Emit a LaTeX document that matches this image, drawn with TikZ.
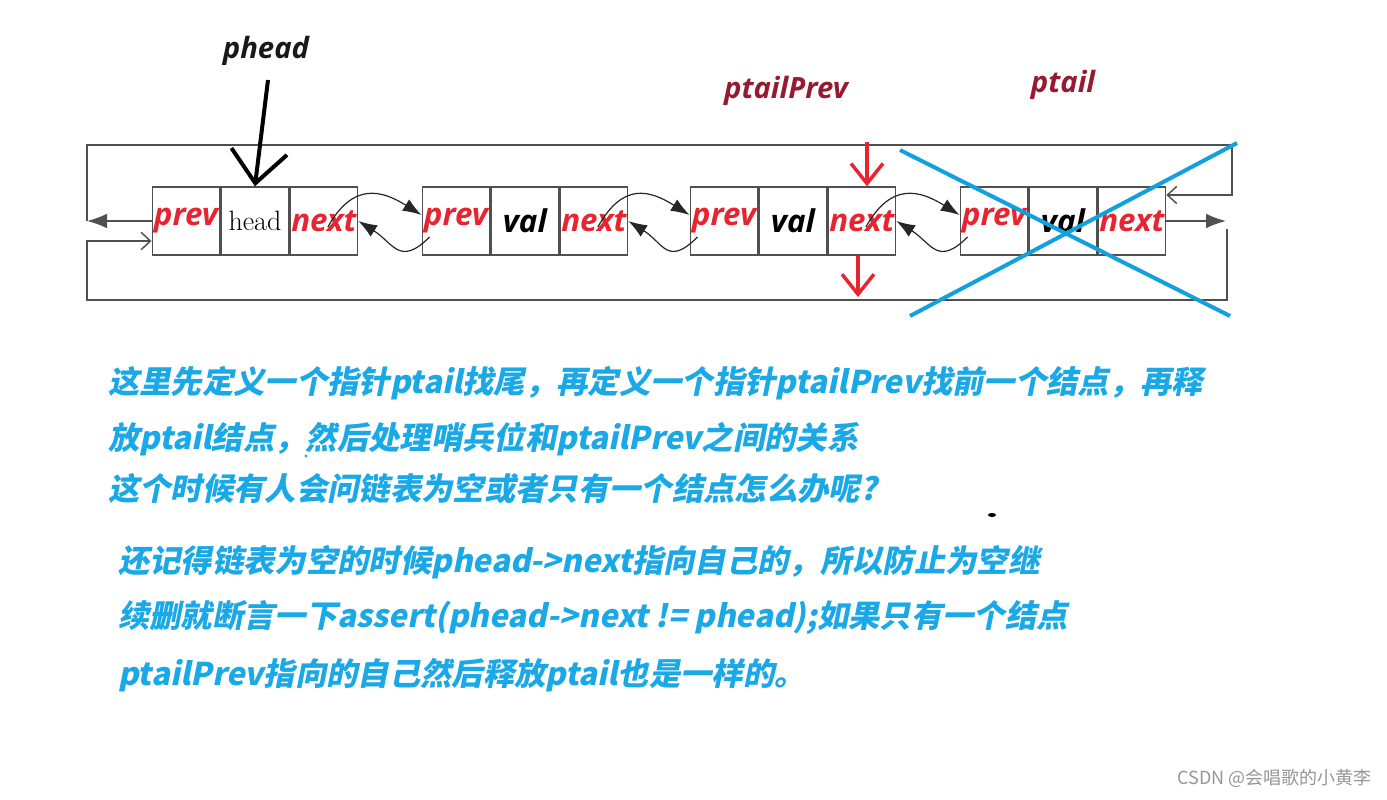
\documentclass[tikz,border=0pt]{standalone}
\usepackage{fontspec}
\usepackage{xcolor}
\usetikzlibrary{positioning,arrows.meta,calc}
\newfontfamily\cjkfont[FakeSlant=0.2]{Noto Sans CJK SC}
\newfontfamily\cjkplain{Noto Sans CJK SC}
\newfontfamily\lblfont{Open Sans}
\definecolor{lblred}{RGB}{232,36,48}
\definecolor{ptrred}{RGB}{150,26,48}
\definecolor{noteblue}{RGB}{27,168,230}
\definecolor{crossblue}{RGB}{18,160,222}
\definecolor{boxgray}{RGB}{80,80,80}
\definecolor{markgray}{RGB}{150,150,150}

\begin{document}
\begin{tikzpicture}[x=0.75pt, y=-0.75pt,
    cell/.style={draw=boxgray, line width=1.1pt, minimum width=50.6pt, minimum height=51pt,
      inner sep=0pt, text width=50.6pt, align=center},
    lbl/.style={font=\lblfont\bfseries\itshape\fontsize{23.5}{24}\selectfont},
    ptr/.style={font=\lblfont\bfseries\itshape\fontsize{22}{24}\selectfont},
    link/.style={draw=black!85, line width=0.9pt, -{Latex[length=14pt,width=10pt]}},
    loopline/.style={draw=boxgray, line width=1.1pt},
    note/.style={anchor=west, text=noteblue, inner sep=0pt, text height=0.88em, text depth=0.12em,
      font=\cjkfont\bfseries\fontsize{23.5}{26}\selectfont}]
  \useasboundingbox (0,0) rectangle (1387,799);

  % head node
  \node[cell, lbl, text=lblred] (p1) at (186,221) {prev};
  \node[cell, right=0pt of p1, font=\fontsize{21}{24}\selectfont] (h1) {head};
  \node[cell, lbl, text=lblred, right=0pt of h1] (n1) {next};

  % second node
  \node[cell, lbl, text=lblred] (p2) at (456,221) {prev};
  \node[cell, lbl, right=0pt of p2] (v2) {val};
  \node[cell, lbl, text=lblred, right=0pt of v2] (n2) {next};

  % third node (ptailPrev)
  \node[cell, lbl, text=lblred] (p3) at (724,221) {prev};
  \node[cell, lbl, right=0pt of p3] (v3) {val};
  \node[cell, lbl, text=lblred, right=0pt of v3] (n3) {next};

  % tail node
  \node[cell, lbl, text=lblred] (p4) at (994,221) {prev};
  \node[cell, lbl, right=0pt of p4] (v4) {val};
  \node[cell, lbl, text=lblred, right=0pt of v4] (n4) {next};

  % links between nodes
  \draw[link] ($(n1.center)+(4,6)$) .. controls +(25,-45) and +(-40,-25) .. ($(p2.west)+(0,-6)$);
  \draw[link] ($(p2.west)+(8,16)$) .. controls +(-30,30) and +(35,22) .. (n1.east);
  \draw[link] ($(n2.center)+(4,6)$) .. controls +(25,-45) and +(-40,-25) .. ($(p3.west)+(0,-6)$);
  \draw[link] ($(p3.west)+(8,16)$) .. controls +(-30,30) and +(35,22) .. (n2.east);
  \draw[link] ($(n3.center)+(4,6)$) .. controls +(25,-45) and +(-40,-25) .. ($(p4.west)+(0,-6)$);
  \draw[link] ($(p4.west)+(8,16)$) .. controls +(-30,30) and +(35,22) .. (n3.east);

  % outer loop
  \coordinate (lt) at (87,145);
  \coordinate (lm) at (87,221);
  \coordinate (lb) at (87,241);
  \coordinate (lbb) at (87,300);
  \coordinate (rt) at (1232,145);
  \coordinate (rm) at (1232,195);
  \coordinate (rn) at (1226,221);
  \coordinate (rb) at (1227,229);
  \coordinate (rbb) at (1227,300);
  \draw[loopline, -{Latex[length=15pt,width=11pt]}] (p1.west) -- (lm);
  \draw[loopline, -{Straight Barb[length=7pt,width=13pt]}] (lm) -- (lt) -- (rt) -- (rm) -- (n4.east |- rm);
  \draw[loopline, -{Latex[length=15pt,width=11pt]}] (n4.east) -- (rn);
  \draw[loopline, -{Straight Barb[length=7pt,width=13pt]}] (rb) -- (rbb) -- (lbb) -- (lb) -- (p1.west |- lb);

  % pointer labels
  \node[ptr, text=black!90] (phead) at (266,51) {phead};
  \node[ptr, text=ptrred] (ptailprev) at (786,91) {ptailPrev};
  \node[ptr, text=ptrred] (ptail) at (1063,85) {ptail};
  \coordinate (pheadtop) at (268,80);
  \draw[line width=3pt, -{Straight Barb[length=24pt,width=42pt]}] (pheadtop) -- (h1.north);
  \coordinate (prevtop) at (867,142);
  \coordinate (prevbot) at (858,297);
  \draw[lblred, line width=2.6pt, -{Straight Barb[length=15pt,width=24pt]}] (prevtop) -- (n3.north -| prevtop);
  \draw[lblred, line width=2.6pt, -{Straight Barb[length=15pt,width=24pt]}] (n3.south -| prevbot) -- (prevbot);

  % cross over the freed tail
  \draw[crossblue, line width=3pt] (900,150) -- (1230,316);
  \draw[crossblue, line width=3pt] (910,316) -- (1237,143);

  % notes
  \node[note] (t1) at (108,388) {这里先定义一个指针ptail找尾，再定义一个指针ptailPrev找前一个结点，再释};
  \node[note] (t2) at (108,444) {放ptail结点，然后处理哨兵位和ptailPrev之间的关系};
  \fill[noteblue!70!gray] (306,456) circle (1.6);
  \node[note] (t3) at (108,495) {这个时候有人会问链表为空或者只有一个结点怎么办呢?};
  \fill (992,515) ellipse (4 and 2);
  \node[note] (t4) at (118,567) {还记得链表为空的时候phead->next指向自己的，所以防止为空继};
  \node[note] (t5) at (118,622) {续删就断言一下assert(phead->next != phead);如果只有一个结点};
  \node[note] (t6) at (118,680) {ptailPrev指向的自己然后释放ptail也是一样的。};

  % watermark
  \node[anchor=east, text=markgray, inner sep=0pt, font=\cjkplain\fontsize{13.5}{15}\selectfont] (mark) at (1372,778) {CSDN @会唱歌的小黄李};
\end{tikzpicture}
\end{document}
